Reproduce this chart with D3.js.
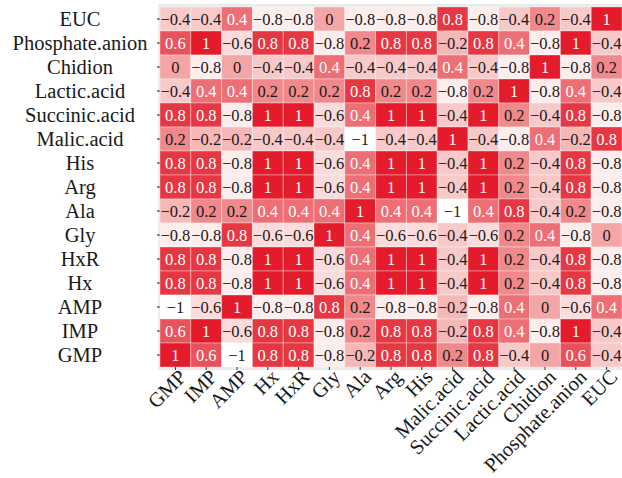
<!DOCTYPE html>
<html>
<head>
<meta charset="utf-8">
<script src="https://cdn.jsdelivr.net/npm/d3@7"></script>
<style>
  body { margin: 0; background: #fff; }
</style>
</head>
<body>
<div id="heatmap"></div>
<script>
// variables in the matrix, columns left to right (rows are the same list, bottom to top)
const vars = ["GMP", "IMP", "AMP", "Hx", "HxR", "Gly", "Ala", "Arg", "His",
  "Malic.acid", "Succinic.acid", "Lactic.acid", "Chidion", "Phosphate.anion", "EUC"];

// correlation rows, one per variable, top row of the picture first
const rowEUC = [-0.4, -0.4, 0.4, -0.8, -0.8, 0, -0.8, -0.8, -0.8, 0.8, -0.8, -0.4, 0.2, -0.4, 1];
const rowPhosphate = [0.6, 1, -0.6, 0.8, 0.8, -0.8, 0.2, 0.8, 0.8, -0.2, 0.8, 0.4, -0.8, 1, -0.4];
const rowChidion = [0, -0.8, 0, -0.4, -0.4, 0.4, -0.4, -0.4, -0.4, 0.4, -0.4, -0.8, 1, -0.8, 0.2];
const rowLactic = [-0.4, 0.4, 0.4, 0.2, 0.2, 0.2, 0.8, 0.2, 0.2, -0.8, 0.2, 1, -0.8, 0.4, -0.4];
const rowSuccinic = [0.8, 0.8, -0.8, 1, 1, -0.6, 0.4, 1, 1, -0.4, 1, 0.2, -0.4, 0.8, -0.8];
const rowMalic = [0.2, -0.2, -0.2, -0.4, -0.4, -0.4, -1, -0.4, -0.4, 1, -0.4, -0.8, 0.4, -0.2, 0.8];
const rowHis = [0.8, 0.8, -0.8, 1, 1, -0.6, 0.4, 1, 1, -0.4, 1, 0.2, -0.4, 0.8, -0.8];
const rowArg = [0.8, 0.8, -0.8, 1, 1, -0.6, 0.4, 1, 1, -0.4, 1, 0.2, -0.4, 0.8, -0.8];
const rowAla = [-0.2, 0.2, 0.2, 0.4, 0.4, 0.4, 1, 0.4, 0.4, -1, 0.4, 0.8, -0.4, 0.2, -0.8];
const rowGly = [-0.8, -0.8, 0.8, -0.6, -0.6, 1, 0.4, -0.6, -0.6, -0.4, -0.6, 0.2, 0.4, -0.8, 0];
const rowHxR = [0.8, 0.8, -0.8, 1, 1, -0.6, 0.4, 1, 1, -0.4, 1, 0.2, -0.4, 0.8, -0.8];
const rowHx = [0.8, 0.8, -0.8, 1, 1, -0.6, 0.4, 1, 1, -0.4, 1, 0.2, -0.4, 0.8, -0.8];
const rowAMP = [-1, -0.6, 1, -0.8, -0.8, 0.8, 0.2, -0.8, -0.8, -0.2, -0.8, 0.4, 0, -0.6, 0.4];
const rowIMP = [0.6, 1, -0.6, 0.8, 0.8, -0.8, 0.2, 0.8, 0.8, -0.2, 0.8, 0.4, -0.8, 1, -0.4];
const rowGMP = [1, 0.6, -1, 0.8, 0.8, -0.8, -0.2, 0.8, 0.8, 0.2, 0.8, -0.4, 0, 0.6, -0.4];

const rowsTopDown = [rowEUC, rowPhosphate, rowChidion, rowLactic, rowSuccinic, rowMalic,
  rowHis, rowArg, rowAla, rowGly, rowHxR, rowHx, rowAMP, rowIMP, rowGMP];
const rowNames = vars.slice().reverse();

const serif = "'Liberation Serif', 'Times New Roman', Times, serif";

const margin = { top: 7, right: 0, bottom: 111, left: 160 },
  width = 622 - margin.left - margin.right,
  height = 478 - margin.top - margin.bottom;

const cells = [];
rowsTopDown.forEach((r, i) => r.forEach((v, j) => cells.push({ row: rowNames[i], col: vars[j], v: v })));

const x = d3.scaleBand().domain(vars).range([0, width]);
const y = d3.scaleBand().domain(rowNames).range([0, height]);
const color = d3.scaleLinear().domain([-1, 0, 1]).range(["#ffffff", "#f4a5a5", "#e31b2a"]);

const svg = d3.select("#heatmap").append("svg")
  .attr("width", 622).attr("height", 478)
  .append("g")
  .attr("transform", `translate(${margin.left},${margin.top})`);

svg.append("rect")
  .attr("x", -2).attr("y", -3).attr("width", width + 2).attr("height", height + 6)
  .attr("fill", "#ebebeb");

svg.selectAll("rect.cell")
  .data(cells)
  .enter().append("rect")
  .attr("class", "cell")
  .attr("x", d => x(d.col))
  .attr("y", d => y(d.row))
  .attr("width", x.bandwidth())
  .attr("height", y.bandwidth())
  .attr("fill", d => color(d.v))
  .attr("stroke", "#ffffff")
  .attr("stroke-opacity", 0.35)
  .attr("stroke-width", 1);

svg.selectAll("text.val")
  .data(cells)
  .enter().append("text")
  .attr("class", "val")
  .attr("x", d => x(d.col) + x.bandwidth() / 2)
  .attr("y", d => y(d.row) + y.bandwidth() / 2)
  .attr("dy", "0.35em")
  .attr("text-anchor", "middle")
  .attr("font-family", serif)
  .attr("font-size", 16.5)
  .attr("fill", d => d.v >= 0.4 ? "#ffffff" : "#1a1a1a")
  .text(d => d.v === 0 ? "0" : String(d.v).replace("-", "\u2212"));

// y axis
const yAxis = svg.append("g")
  .call(d3.axisLeft(y).tickSize(3).tickPadding(4))
  .attr("font-family", serif);
yAxis.select(".domain").remove();
yAxis.selectAll(".tick line").attr("stroke", "#333");
yAxis.selectAll(".tick text")
  .attr("font-family", serif)
  .attr("font-size", 20.5)
  .attr("fill", "#1a1a1a")
  .attr("text-anchor", "middle")
  .attr("x", -80);

// x axis
const xAxis = svg.append("g")
  .attr("transform", `translate(0,${height})`)
  .call(d3.axisBottom(x).tickSize(3).tickPadding(4))
  .attr("font-family", serif);
xAxis.select(".domain").remove();
xAxis.selectAll(".tick line").attr("stroke", "#333");
xAxis.selectAll(".tick text")
  .attr("font-family", serif)
  .attr("font-size", 20.5)
  .attr("fill", "#1a1a1a")
  .attr("text-anchor", "end")
  .attr("y", 0)
  .attr("dy", "0.7em")
  .attr("transform", "translate(2,1) rotate(-45)");
</script>
</body>
</html>
